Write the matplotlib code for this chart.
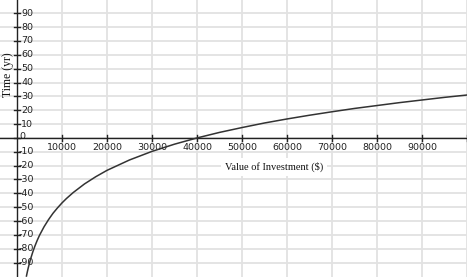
import numpy as np
import matplotlib.pyplot as plt

# values
value = [2100, 2300, 2500, 2750, 3000, 3500, 4000, 4500, 5000, 6000, 7000,
         8000, 9000, 10000, 11000, 12500, 15000, 17500, 20000, 25000, 30000,
         35000, 40000, 45000, 50000, 55000, 60000, 65000, 70000, 75000,
         80000, 85000, 90000, 95000, 100000]
time_yr = [-99.7, -96.6, -93.8, -90.6, -87.6, -82.4, -77.9, -73.9, -70.3,
           -64.2, -59.0, -54.4, -50.5, -46.9, -43.7, -39.4, -33.2, -28.0,
           -23.4, -15.9, -9.7, -4.5, 0.0, 4.0, 7.5, 10.8, 13.7, 16.4, 18.9,
           21.3, 23.4, 25.5, 27.4, 29.3, 31.0]

x_ticks = [10000, 20000, 30000, 40000, 50000, 60000, 70000, 80000, 90000]
y_ticks = [-90, -80, -70, -60, -50, -40, -30, -20, -10, 0,
           10, 20, 30, 40, 50, 60, 70, 80, 90]

fig = plt.figure(figsize=(4.67, 2.77), dpi=100)
ax = fig.add_axes([0, 0, 1, 1])
ax.set_xlim(-3778, 100000)
ax.set_ylim(-100.4, 99.6)

# grid
for xv in x_ticks + [100000]:
    ax.axvline(xv, color='#e2e2e2', lw=1.3, zorder=0)
for yv in y_ticks:
    ax.axhline(yv, color='#e2e2e2', lw=1.3, zorder=0)

for s in ax.spines.values():
    s.set_visible(False)
ax.set_xticks([])
ax.set_yticks([])

# axes through the origin
ax.axhline(0, color='#222222', lw=1.0, zorder=2)
ax.axvline(0, color='#222222', lw=1.0, zorder=2)

for xv in x_ticks + [100000]:
    ax.plot([xv, xv], [-2.2, 2.2], color='#222222', lw=1.0, zorder=2)
    if xv in x_ticks:
        ax.text(xv, -3.5, str(xv), ha='center', va='top', fontsize=6.8,
                color='#222222')
for yv in y_ticks:
    ax.plot([-700, 700], [yv, yv], color='#222222', lw=1.0, zorder=2)
    if yv == 0:
        ax.text(600, 1.2, '0', ha='left', va='center', fontsize=6.8,
                color='#222222')
    else:
        lab = str(yv) if yv > 0 else '-' + str(-yv)
        ax.text(900 if yv > 0 else 300, yv, lab, ha='left', va='center',
                fontsize=6.8, color='#222222')

ax.plot(value, time_yr, color='#333333', lw=1.1, zorder=3)

ax.text(-2000, 45.5, 'Time (yr)', rotation=90, ha='center', va='center',
        fontsize=8.5, family='Liberation Serif', color='#111111')
ax.text(57100, -20.9, 'Value of Investment ($)', ha='center', va='center',
        fontsize=7.5, family='Liberation Serif', color='#111111',
        bbox=dict(facecolor='white', edgecolor='none', pad=3))

fig.savefig('out.png', dpi=100)
